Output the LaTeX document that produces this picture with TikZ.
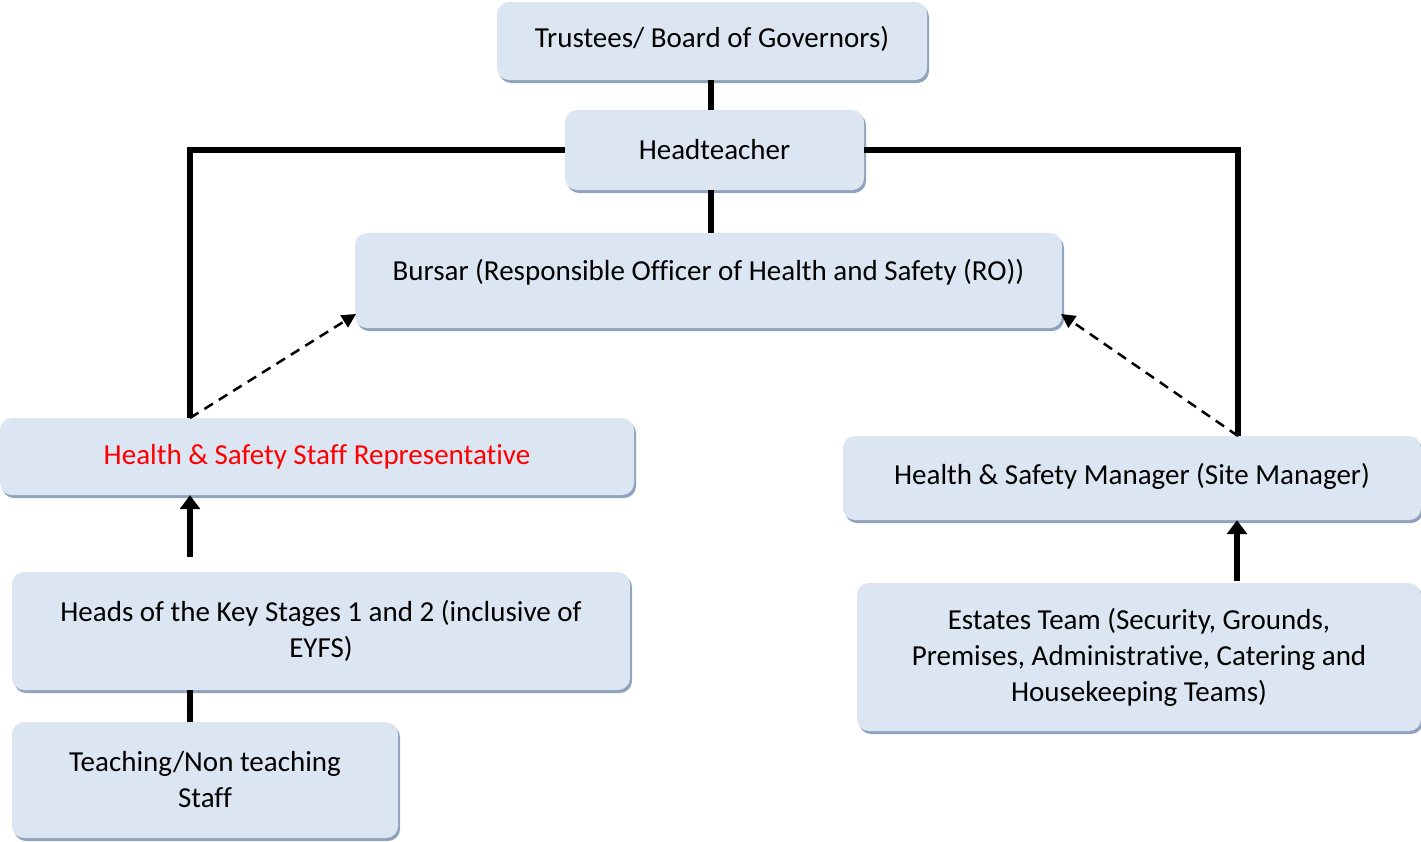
\documentclass[tikz,border=0pt]{standalone}
\usepackage{fontspec}
\setmainfont{Carlito}[Ligatures={NoCommon}]
\usepackage{tikz}
\usetikzlibrary{arrows.meta,shadows}
\definecolor{boxblue}{RGB}{220,230,242}
\definecolor{shadowblue}{RGB}{143,163,188}
\definecolor{repred}{RGB}{255,0,0}

\begin{document}
\begin{tikzpicture}[x=1pt,y=-1pt,
  orgbox/.style={rectangle,rounded corners=12pt,fill=boxblue,align=center,
    font=\fontsize{29}{36}\selectfont,inner sep=0pt,
    drop shadow={shadow xshift=2pt,shadow yshift=-3pt,fill=shadowblue,opacity=1}},
  conn/.style={line width=5.5pt},
  uparrow/.style={line width=5.5pt,-{Triangle[length=14pt,width=20pt]}},
  dasharrow/.style={line width=2.5pt,dash pattern=on 10pt off 7pt,-{Triangle[length=14pt,width=14pt]}}]
\useasboundingbox (0,0) rectangle (1421,841);
\node[orgbox,minimum width=430pt,minimum height=78pt] (trustees) at (712,41) {\raisebox{2pt}[\height][\depth]{Trustees/ Board of Governors)}};
\node[orgbox,minimum width=299pt,minimum height=80pt] (head) at (714.5,150) {Headteacher};
\node[orgbox,minimum width=707pt,minimum height=95pt] (bursar) at (708.5,280.5) {\raisebox{8pt}[\height][\depth]{Bursar (Responsible Officer of Health and Safety (RO))}};
\node[orgbox,minimum width=634pt,minimum height=77pt,text=repred] (rep) at (317,456.5) {Health \& Safety Staff Representative};
\node[orgbox,minimum width=578pt,minimum height=84pt] (mgr) at (1132,478) {\raisebox{2pt}[\height][\depth]{Health \& Safety Manager (Site Manager)}};
\node[orgbox,minimum width=618pt,minimum height=118pt] (heads) at (321,631) {Heads of the Key Stages 1 and 2 (inclusive of\\EYFS)};
\node[orgbox,minimum width=386pt,minimum height=116pt] (staff) at (205,780) {Teaching/Non teaching\\Staff};
\node[orgbox,minimum width=564pt,minimum height=148pt] (estates) at (1139,657) {Estates Team (Security, Grounds,\\Premises, Administrative, Catering and\\Housekeeping Teams)};
\coordinate (spine) at (711,0);
\coordinate (repTop) at (190,418);
\coordinate (mgrTop) at (1238,436);
\coordinate (bursarL) at (356,314);
\coordinate (bursarR) at (1061,314);
\coordinate (headsTop) at (190,557);
\coordinate (estatesTop) at (1237,581);
\draw[conn] (trustees.south -| spine) -- (head.north -| spine);
\draw[conn] (head.south -| spine) -- (bursar.north -| spine);
\draw[conn] (head.west) -| (repTop);
\draw[conn] (head.east) -| (mgrTop);
\draw[dasharrow] (repTop) -- (bursarL);
\draw[dasharrow] (mgrTop) -- (bursarR);
\draw[uparrow] (headsTop) -- (headsTop |- rep.south);
\draw[uparrow] (estatesTop) -- (estatesTop |- mgr.south);
\draw[conn] (heads.south -| headsTop) -- (staff.north -| headsTop);
\end{tikzpicture}
\end{document}
